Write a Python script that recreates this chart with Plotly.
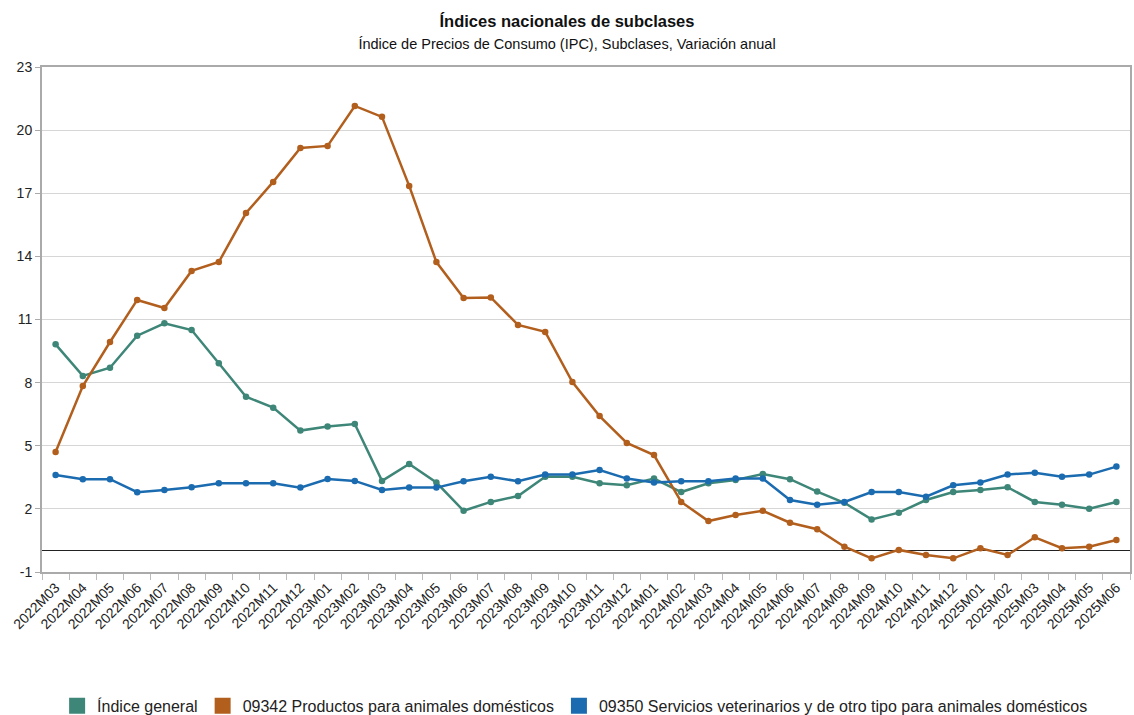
import plotly.graph_objects as go

categories = [
    "2022M03", "2022M04", "2022M05", "2022M06", "2022M07", "2022M08", "2022M09", "2022M10",
    "2022M11", "2022M12", "2023M01", "2023M02", "2023M03", "2023M04", "2023M05", "2023M06",
    "2023M07", "2023M08", "2023M09", "2023M10", "2023M11", "2023M12", "2024M01", "2024M02",
    "2024M03", "2024M04", "2024M05", "2024M06", "2024M07", "2024M08", "2024M09", "2024M10",
    "2024M11", "2024M12", "2025M01", "2025M02", "2025M03", "2025M04", "2025M05", "2025M06",
]

indice_general = [
    9.82, 8.32, 8.71, 10.23, 10.82, 10.50, 8.92, 7.33, 6.81, 5.72,
    5.91, 6.03, 3.33, 4.13, 3.25, 1.91, 2.33, 2.61, 3.53, 3.53,
    3.22, 3.12, 3.44, 2.80, 3.22, 3.37, 3.66, 3.41, 2.82, 2.29,
    1.50, 1.82, 2.42, 2.80, 2.90, 3.03, 2.33, 2.20, 2.01, 2.33,
]

productos_animales = [
    4.70, 7.84, 9.93, 11.93, 11.55, 13.31, 13.73, 16.06, 17.54, 19.15,
    19.25, 21.15, 20.63, 17.35, 13.73, 12.02, 12.05, 10.74, 10.41, 8.03,
    6.41, 5.13, 4.56, 2.33, 1.42, 1.71, 1.91, 1.34, 1.03, 0.20,
    -0.35, 0.05, -0.19, -0.35, 0.13, -0.19, 0.65, 0.13, 0.20, 0.52,
]

servicios_veterinarios = [
    3.61, 3.41, 3.41, 2.79, 2.90, 3.03, 3.22, 3.22, 3.22, 3.01,
    3.42, 3.33, 2.90, 3.01, 3.01, 3.31, 3.53, 3.31, 3.63, 3.63,
    3.85, 3.44, 3.25, 3.31, 3.31, 3.44, 3.44, 2.42, 2.20, 2.33,
    2.80, 2.80, 2.58, 3.12, 3.25, 3.63, 3.72, 3.53, 3.63, 4.01,
]

series_names = [
    "Índice general",
    "09342 Productos para animales domésticos",
    "09350 Servicios veterinarios y de otro tipo para animales domésticos",
]
series_values = [indice_general, productos_animales, servicios_veterinarios]
series_colors = ["#3E8678", "#B25F1E", "#1B6BB0"]

y_ticks = [-1, 2, 5, 8, 11, 14, 17, 20, 23]
y_tick_labels = ["-1", "2", "5", "8", "11", "14", "17", "20", "23"]

fig = go.Figure()

for name, vals, col in zip(series_names, series_values, series_colors):
    fig.add_trace(go.Scatter(
        x=categories, y=vals, mode="lines+markers", name=name,
        line=dict(color=col, width=2.5),
        marker=dict(color=col, size=6.5),
        showlegend=False,
    ))

# legend entries with square swatches
for name, col in zip(series_names, series_colors):
    fig.add_trace(go.Scatter(
        x=[None], y=[None], mode="markers", name=name,
        marker=dict(color=col, size=17, symbol="square"),
        showlegend=True,
    ))

fig.update_layout(
    width=1134, height=715,
    margin=dict(l=42, r=4, t=67, b=143, autoexpand=False),
    paper_bgcolor="white", plot_bgcolor="white",
    font=dict(family="Liberation Sans, Arial, sans-serif", color="#222"),
    title=dict(
        text="<b>Índices nacionales de subclases</b><br><span style='font-size:14.5px'>Índice de Precios de Consumo (IPC), Subclases, Variación anual</span>",
        x=0.5, xanchor="center", y=0.962, yanchor="top",
        font=dict(size=16.5, color="#111"),
    ),
    legend=dict(
        orientation="h", x=0.49, xanchor="center",
        yref="paper", y=-0.265, yanchor="middle",
        font=dict(size=16, color="#222"),
        itemwidth=30, tracegroupgap=0,
    ),
    showlegend=True,
)

fig.update_xaxes(
    type="category", categoryorder="array", categoryarray=categories,
    range=[-0.5, len(categories) - 0.5],
    tickangle=-45, tickfont=dict(size=14, color="#222"),
    ticks="outside", tickson="boundaries", ticklen=6, tickcolor="#bbb",
    showline=True, linecolor="#aaa", linewidth=2, mirror=True,
    showgrid=False, automargin=False,
)
fig.update_yaxes(
    range=[-1, 23], tickvals=y_ticks, ticktext=y_tick_labels,
    tickfont=dict(size=14, color="#222"),
    ticks="outside", ticklen=5, tickcolor="#aaa",
    showline=True, linecolor="#aaa", linewidth=2, mirror=True,
    showgrid=True, gridcolor="#d6d6d6", gridwidth=1,
    zeroline=True, zerolinecolor="#222", zerolinewidth=1, automargin=False,
)

fig.write_html(
    "out.html",
    config={"displayModeBar": False},
    post_script="document.body.style.margin='0';",
)
